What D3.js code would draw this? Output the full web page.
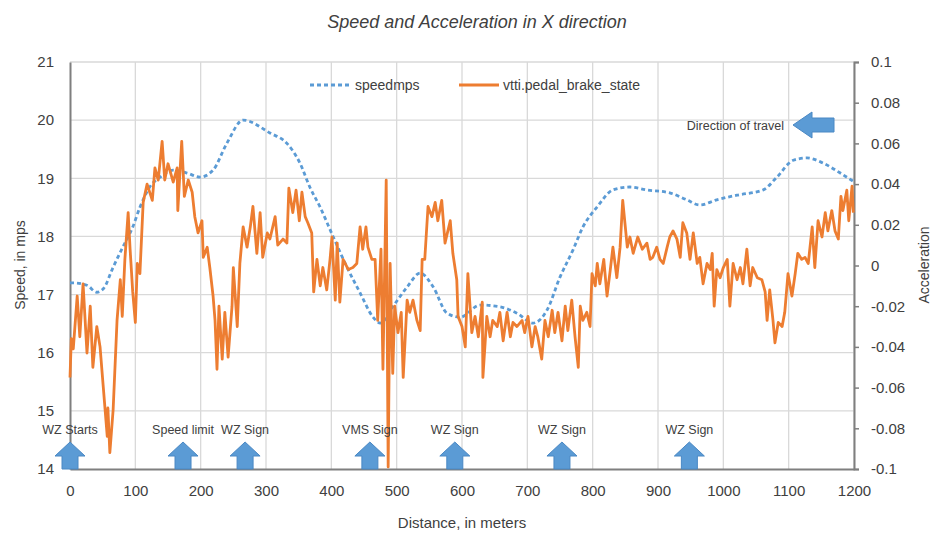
<!DOCTYPE html>
<html lang="en">
<head>
    <meta charset="UTF-8" />
    <title>Speed and Acceleration in X direction</title>
    <script src="https://d3js.org/d3.v7.min.js"></script>
    <style>
        body { margin: 0; background: #fff; }
        text { font-family: "Liberation Sans", Arial, sans-serif; fill: #404040; }
    </style>
</head>

<body>
    <script>
        var w = 936;
        var h = 535;

        // distance (m) and speed (mps)
        var speedDist = [0, 5, 26, 41, 51, 66, 81, 96, 107, 122, 138, 158, 179, 199, 219, 240, 265, 306, 332, 352,
            367, 383, 403, 424, 444, 464, 475, 494, 516, 536, 556, 577, 597, 628, 658, 684, 709, 730, 750, 770,
            785, 807, 831, 857, 883, 918, 944, 964, 990, 1021, 1061, 1082, 1107, 1128, 1153, 1179, 1200];
        var speedVals = [17.2, 17.2, 17.16, 17.04, 17.1, 17.47, 17.82, 18.16, 18.5, 18.85, 19.02, 19.14, 19.09, 19.02, 19.14, 19.6, 20.0, 19.78, 19.6, 19.26,
            18.85, 18.5, 17.99, 17.47, 17.03, 16.61, 16.51, 16.79, 17.13, 17.37, 17.13, 16.68, 16.61, 16.82, 16.79, 16.68, 16.51, 16.73, 17.3, 17.77,
            18.16, 18.51, 18.8, 18.85, 18.8, 18.75, 18.63, 18.54, 18.63, 18.71, 18.8, 19.02, 19.31, 19.35, 19.26, 19.09, 18.94];

        // distance (m) and vtti.pedal_brake_state (acceleration axis)
        var brakeDist = [0, 2, 5, 11, 15, 20, 26, 31, 35, 41, 46, 51, 57, 58, 61, 66, 72, 77, 80, 84,
            89, 92, 96, 100, 103, 107, 112, 118, 126, 130, 135, 141, 145, 150, 158, 164, 165, 171, 175, 181,
            187, 191, 196, 202, 204, 210, 214, 219, 222, 225, 228, 233, 237, 242, 248, 250, 256, 260, 265, 271,
            276, 280, 286, 291, 295, 302, 306, 314, 318, 326, 332, 335, 341, 346, 351, 355, 360, 364, 370, 373,
            378, 383, 387, 393, 398, 401, 406, 409, 413, 418, 426, 433, 439, 444, 448, 453, 456, 462, 467, 471,
            476, 479, 484, 487, 490, 494, 497, 502, 507, 510, 516, 520, 525, 531, 536, 539, 543, 548, 554, 559,
            563, 569, 574, 582, 586, 592, 594, 600, 605, 609, 615, 620, 625, 631, 632, 638, 643, 647, 654, 658,
            663, 669, 674, 678, 684, 692, 696, 701, 707, 712, 716, 722, 727, 732, 738, 742, 747, 753, 758, 762,
            768, 773, 778, 781, 785, 791, 796, 799, 804, 807, 811, 817, 822, 827, 831, 837, 842, 846, 853, 857,
            862, 869, 876, 883, 888, 892, 898, 903, 908, 914, 918, 923, 929, 934, 938, 944, 949, 954, 960, 964,
            969, 975, 980, 983, 986, 990, 995, 1000, 1006, 1010, 1015, 1021, 1026, 1030, 1036, 1041, 1045, 1052, 1059, 1064,
            1067, 1071, 1076, 1079, 1084, 1090, 1094, 1099, 1105, 1110, 1114, 1120, 1125, 1130, 1136, 1140, 1145, 1151, 1156, 1160,
            1166, 1171, 1176, 1180, 1183, 1189, 1192, 1197, 1199];
        var brakeVals = [-0.055, -0.036, -0.041, -0.015, -0.035, -0.009, -0.043, -0.020, -0.050, -0.030, -0.040, -0.060, -0.084, -0.070, -0.092, -0.071, -0.027, -0.007, -0.025, 0.003,
            0.026, 0.008, -0.013, -0.028, 0.001, -0.004, 0.031, 0.040, 0.032, 0.048, 0.042, 0.061, 0.042, 0.050, 0.041, 0.048, 0.027, 0.061, 0.034, 0.042,
            0.036, 0.024, 0.016, 0.022, 0.004, 0.009, -0.001, -0.015, -0.027, -0.051, -0.020, -0.046, -0.023, -0.045, -0.020, -0.001, -0.030, 0.001, 0.019, 0.009,
            0.019, 0.029, 0.006, 0.026, 0.004, 0.016, 0.013, 0.024, 0.010, 0.013, 0.011, 0.038, 0.026, 0.037, 0.022, 0.036, 0.024, 0.021, 0.016, -0.013,
            0.003, -0.010, -0.001, -0.012, 0.003, 0.014, -0.017, 0.011, -0.018, 0.003, -0.002, -0.001, 0.001, 0.019, 0.008, 0.019, 0.009, 0.003, 0.003, -0.027,
            0.008, -0.051, 0.042, -0.099, 0.001, -0.053, -0.020, -0.033, -0.023, -0.055, -0.017, -0.023, -0.017, -0.027, -0.032, 0.003, 0.003, 0.029, 0.024, 0.031,
            0.022, 0.032, 0.011, 0.022, 0.006, -0.007, -0.025, -0.030, -0.040, -0.004, -0.033, -0.025, -0.035, -0.018, -0.055, -0.025, -0.035, -0.027, -0.030, -0.023,
            -0.037, -0.023, -0.035, -0.028, -0.030, -0.027, -0.033, -0.025, -0.040, -0.030, -0.035, -0.046, -0.027, -0.035, -0.022, -0.033, -0.023, -0.037, -0.020, -0.032,
            -0.017, -0.035, -0.050, -0.020, -0.027, -0.023, -0.030, -0.004, -0.010, 0.001, -0.009, 0.003, -0.015, -0.002, 0.009, -0.006, 0.009, 0.032, 0.009, 0.014,
            0.006, 0.014, 0.008, 0.011, 0.003, 0.004, 0.009, 0.003, 0.001, 0.009, 0.014, 0.017, 0.013, 0.004, 0.021, 0.016, 0.003, 0.016, 0.001, 0.004,
            -0.009, 0.001, -0.002, 0.006, -0.020, -0.002, -0.006, -0.001, 0.003, -0.020, 0.001, -0.007, -0.001, -0.009, 0.008, -0.010, -0.001, -0.006, -0.007, -0.013,
            -0.027, -0.012, -0.027, -0.038, -0.028, -0.030, -0.023, -0.004, -0.015, -0.004, 0.006, 0.003, 0.004, 0.001, 0.019, -0.001, 0.022, 0.014, 0.026, 0.017,
            0.027, 0.017, 0.013, 0.034, 0.027, 0.037, 0.022, 0.039, 0.026];

        // annotations along the bottom of the plot
        var signLabels = ["WZ Starts", "Speed limit", "WZ Sign", "VMS Sign", "WZ Sign", "WZ Sign", "WZ Sign"];
        var signDist = [0, 173, 268, 459, 589, 753, 948];

        var xTicks = d3.range(0, 1201, 100);
        var speedTicks = d3.range(14, 21.5, 1);
        var accTicks = [-0.1, -0.08, -0.06, -0.04, -0.02, 0, 0.02, 0.04, 0.06, 0.08, 0.1];

        var mLeft = 70, mRight = 854, mTop = 62, mBottom = 469;

        var svg = d3.select("body")
            .append("svg")
            .attr("width", w)
            .attr("height", h);

        // Scales
        var xScale = d3.scaleLinear().domain([0, 1200]).range([mLeft, mRight]);
        var ySpeed = d3.scaleLinear().domain([14, 21]).range([mBottom, mTop]);
        var yAcc = d3.scaleLinear().domain([-0.1, 0.1]).range([mBottom, mTop]);

        // Gridlines
        svg.append("g").selectAll("line")
            .data(speedTicks.filter(function(d) { return d > 14; }))
            .enter().append("line")
            .attr("x1", mLeft).attr("x2", mRight)
            .attr("y1", function(d) { return ySpeed(d); })
            .attr("y2", function(d) { return ySpeed(d); })
            .attr("stroke", "#d9d9d9").attr("stroke-width", 1.3);

        svg.append("g").selectAll("line")
            .data(xTicks.filter(function(d) { return d > 0; }))
            .enter().append("line")
            .attr("x1", function(d) { return xScale(d); })
            .attr("x2", function(d) { return xScale(d); })
            .attr("y1", mTop).attr("y2", mBottom)
            .attr("stroke", "#d9d9d9").attr("stroke-width", 1.3);

        // Axes
        var xAxis = svg.append("g")
            .attr("transform", "translate(0," + mBottom + ")")
            .call(d3.axisBottom(xScale).tickValues(xTicks).tickSize(0).tickPadding(16).tickFormat(d3.format("d")));

        var yAxisL = svg.append("g")
            .attr("transform", "translate(" + mLeft + ",0)")
            .call(d3.axisLeft(ySpeed).tickValues(speedTicks).tickSize(0).tickPadding(16).tickFormat(d3.format("d")));

        var yAxisR = svg.append("g")
            .attr("transform", "translate(" + mRight + ",0)")
            .call(d3.axisRight(yAcc).tickValues(accTicks).tickSize(5).tickPadding(12)
                .tickFormat(function(d) { return d === 0 ? "0" : String(+d.toFixed(2)); }));

        [xAxis, yAxisL, yAxisR].forEach(function(g) {
            g.select(".domain").attr("stroke", "#7f7f7f").attr("stroke-width", 2);
            g.selectAll(".tick line").attr("stroke", "#7f7f7f").attr("stroke-width", 1.5);
            g.selectAll(".tick text")
                .style("font-family", "'Liberation Sans', Arial, sans-serif")
                .style("font-size", "15px")
                .attr("fill", "#595959");
        });

        // Speed line
        var speedLine = d3.line()
            .x(function(d, i) { return xScale(speedDist[i]); })
            .y(function(d) { return ySpeed(d); })
            .curve(d3.curveMonotoneX);

        svg.append("path")
            .datum(speedVals)
            .attr("d", speedLine)
            .attr("fill", "none")
            .attr("stroke", "#5b9bd5")
            .attr("stroke-width", 2.8)
            .attr("stroke-dasharray", "4,3");

        // Brake state line
        var brakeLine = d3.line()
            .x(function(d, i) { return xScale(brakeDist[i]); })
            .y(function(d) { return yAcc(d); });

        svg.append("path")
            .datum(brakeVals)
            .attr("d", brakeLine)
            .attr("fill", "none")
            .attr("stroke", "#ed7d31")
            .attr("stroke-width", 2.8)
            .attr("stroke-linejoin", "round");

        // Up arrows for signs
        function upArrow(cx) {
            var base = mBottom, tip = mBottom - 27;
            return "M" + (cx - 8) + "," + base + "L" + (cx - 8) + "," + (tip + 14) + "L" + (cx - 15) + "," + (tip + 14) +
                "L" + cx + "," + tip + "L" + (cx + 15) + "," + (tip + 14) + "L" + (cx + 8) + "," + (tip + 14) +
                "L" + (cx + 8) + "," + base + "Z";
        }

        svg.append("g").selectAll("path")
            .data(signDist)
            .enter().append("path")
            .attr("d", function(d) { return upArrow(xScale(d)); })
            .attr("fill", "#5b9bd5")
            .attr("stroke", "#4a88c4")
            .attr("stroke-width", 1);

        svg.append("g").selectAll("text")
            .data(signLabels)
            .enter().append("text")
            .attr("x", function(d, i) { return xScale(signDist[i]); })
            .attr("y", 434)
            .attr("text-anchor", "middle")
            .style("font-size", "12.5px")
            .attr("fill", "#262626")
            .text(function(d) { return d; });

        // Direction of travel
        svg.append("text")
            .attr("x", 784).attr("y", 130)
            .attr("text-anchor", "end")
            .style("font-size", "12.5px")
            .attr("fill", "#262626")
            .text("Direction of travel");

        svg.append("path")
            .attr("d", "M793,125L812,112L812,118L834,118L834,132L812,132L812,138Z")
            .attr("fill", "#5b9bd5")
            .attr("stroke", "#4a88c4")
            .attr("stroke-width", 1);

        // Legend
        svg.append("line")
            .attr("x1", 310).attr("x2", 352).attr("y1", 85).attr("y2", 85)
            .attr("stroke", "#5b9bd5").attr("stroke-width", 2.8).attr("stroke-dasharray", "4,3");
        svg.append("text").attr("x", 355).attr("y", 90)
            .style("font-size", "14px").attr("fill", "#595959").text("speedmps");
        svg.append("line")
            .attr("x1", 459).attr("x2", 499).attr("y1", 85).attr("y2", 85)
            .attr("stroke", "#ed7d31").attr("stroke-width", 2.8);
        svg.append("text").attr("x", 503).attr("y", 90)
            .style("font-size", "14px").attr("fill", "#595959").text("vtti.pedal_brake_state");

        // Titles
        svg.append("text")
            .attr("x", 477).attr("y", 28)
            .attr("text-anchor", "middle")
            .style("font-size", "18px")
            .style("font-style", "italic")
            .attr("fill", "#404040")
            .text("Speed and Acceleration in X direction");

        svg.append("text")
            .attr("transform", "translate(25,265) rotate(-90)")
            .attr("text-anchor", "middle")
            .style("font-size", "14px")
            .attr("fill", "#595959")
            .text("Speed, in mps");

        svg.append("text")
            .attr("transform", "translate(929,265) rotate(-90)")
            .attr("text-anchor", "middle")
            .style("font-size", "14px")
            .attr("fill", "#595959")
            .text("Acceleration");

        svg.append("text")
            .attr("x", 462).attr("y", 528)
            .attr("text-anchor", "middle")
            .style("font-size", "15px")
            .attr("fill", "#595959")
            .text("Distance, in meters");
    </script>
</body>
</html>
